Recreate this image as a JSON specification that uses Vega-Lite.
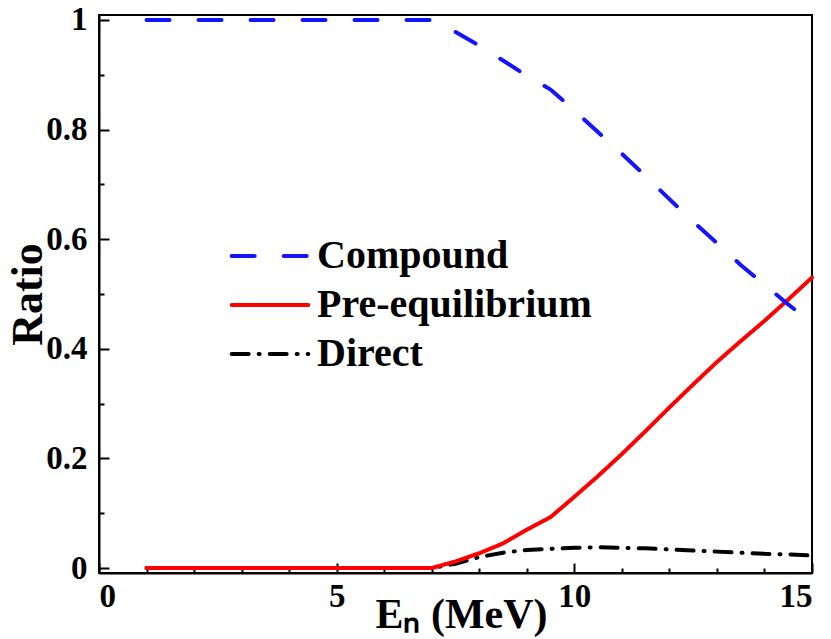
{
  "$schema": "https://vega.github.io/schema/vega-lite/v6.json",
  "width": 713,
  "height": 558,
  "autosize": {"type": "none"},
  "padding": {"left": 99, "top": 15, "right": 19, "bottom": 66},
  "background": "white",
  "config": {
    "view": {"stroke": "black", "strokeWidth": 2},
    "font": "Liberation Serif",
    "axis": {
      "grid": false,
      "domainColor": "black",
      "domainWidth": 2,
      "tickColor": "black",
      "tickWidth": 2,
      "labelFont": "Liberation Serif",
      "labelFontWeight": "bold",
      "labelFontSize": 33,
      "labelColor": "black",
      "labelOverlap": false,
      "titleFont": "Liberation Serif",
      "titleFontWeight": "bold",
      "titleFontSize": 42,
      "titleColor": "black"
    }
  },
  "data": {
    "values": [
      {"E": 1, "series": "Compound", "ratio": 1.0},
      {"E": 2, "series": "Compound", "ratio": 1.0},
      {"E": 3, "series": "Compound", "ratio": 1.0},
      {"E": 4, "series": "Compound", "ratio": 1.0},
      {"E": 5, "series": "Compound", "ratio": 1.0},
      {"E": 6, "series": "Compound", "ratio": 1.0},
      {"E": 7, "series": "Compound", "ratio": 1.0},
      {"E": 7.5, "series": "Compound", "ratio": 0.978},
      {"E": 8, "series": "Compound", "ratio": 0.953},
      {"E": 8.5, "series": "Compound", "ratio": 0.926},
      {"E": 9, "series": "Compound", "ratio": 0.898},
      {"E": 9.5, "series": "Compound", "ratio": 0.873},
      {"E": 10, "series": "Compound", "ratio": 0.835},
      {"E": 10.5, "series": "Compound", "ratio": 0.795},
      {"E": 11, "series": "Compound", "ratio": 0.756},
      {"E": 11.5, "series": "Compound", "ratio": 0.715},
      {"E": 12, "series": "Compound", "ratio": 0.673},
      {"E": 12.5, "series": "Compound", "ratio": 0.632},
      {"E": 13, "series": "Compound", "ratio": 0.593},
      {"E": 13.5, "series": "Compound", "ratio": 0.553},
      {"E": 14, "series": "Compound", "ratio": 0.517},
      {"E": 14.5, "series": "Compound", "ratio": 0.481},
      {"E": 15, "series": "Compound", "ratio": 0.447},
      {"E": 1, "series": "Pre-equilibrium", "ratio": 0.0},
      {"E": 2, "series": "Pre-equilibrium", "ratio": 0.0},
      {"E": 3, "series": "Pre-equilibrium", "ratio": 0.0},
      {"E": 4, "series": "Pre-equilibrium", "ratio": 0.0},
      {"E": 5, "series": "Pre-equilibrium", "ratio": 0.0},
      {"E": 6, "series": "Pre-equilibrium", "ratio": 0.0},
      {"E": 7, "series": "Pre-equilibrium", "ratio": 0.0},
      {"E": 7.5, "series": "Pre-equilibrium", "ratio": 0.012},
      {"E": 8, "series": "Pre-equilibrium", "ratio": 0.027},
      {"E": 8.5, "series": "Pre-equilibrium", "ratio": 0.045},
      {"E": 9, "series": "Pre-equilibrium", "ratio": 0.07},
      {"E": 9.5, "series": "Pre-equilibrium", "ratio": 0.093},
      {"E": 10, "series": "Pre-equilibrium", "ratio": 0.13},
      {"E": 10.5, "series": "Pre-equilibrium", "ratio": 0.168},
      {"E": 11, "series": "Pre-equilibrium", "ratio": 0.208},
      {"E": 11.5, "series": "Pre-equilibrium", "ratio": 0.25},
      {"E": 12, "series": "Pre-equilibrium", "ratio": 0.293},
      {"E": 12.5, "series": "Pre-equilibrium", "ratio": 0.335},
      {"E": 13, "series": "Pre-equilibrium", "ratio": 0.376},
      {"E": 13.5, "series": "Pre-equilibrium", "ratio": 0.414},
      {"E": 14, "series": "Pre-equilibrium", "ratio": 0.451},
      {"E": 14.5, "series": "Pre-equilibrium", "ratio": 0.49},
      {"E": 15, "series": "Pre-equilibrium", "ratio": 0.53},
      {"E": 1, "series": "Direct", "ratio": 0.0},
      {"E": 2, "series": "Direct", "ratio": 0.0},
      {"E": 3, "series": "Direct", "ratio": 0.0},
      {"E": 4, "series": "Direct", "ratio": 0.0},
      {"E": 5, "series": "Direct", "ratio": 0.0},
      {"E": 6, "series": "Direct", "ratio": 0.0},
      {"E": 7, "series": "Direct", "ratio": 0.0},
      {"E": 7.5, "series": "Direct", "ratio": 0.008},
      {"E": 8, "series": "Direct", "ratio": 0.02},
      {"E": 8.5, "series": "Direct", "ratio": 0.028},
      {"E": 9, "series": "Direct", "ratio": 0.033},
      {"E": 9.5, "series": "Direct", "ratio": 0.035},
      {"E": 10, "series": "Direct", "ratio": 0.037},
      {"E": 10.5, "series": "Direct", "ratio": 0.038},
      {"E": 11, "series": "Direct", "ratio": 0.037},
      {"E": 11.5, "series": "Direct", "ratio": 0.036},
      {"E": 12, "series": "Direct", "ratio": 0.034},
      {"E": 12.5, "series": "Direct", "ratio": 0.032},
      {"E": 13, "series": "Direct", "ratio": 0.03},
      {"E": 13.5, "series": "Direct", "ratio": 0.028},
      {"E": 14, "series": "Direct", "ratio": 0.026},
      {"E": 14.5, "series": "Direct", "ratio": 0.025},
      {"E": 15, "series": "Direct", "ratio": 0.023}
    ]
  },
  "encoding": {
    "x": {
      "field": "E",
      "type": "quantitative",
      "scale": {"domain": [0, 15], "nice": false, "zero": false},
      "axis": {
        "values": [0, 1, 2, 3, 4, 5, 6, 7, 8, 9, 10, 11, 12, 13, 14, 15],
        "labelExpr": "datum.value % 5 == 0 ? datum.label : ''",
        "tickSize": {"condition": {"test": "datum.value % 5 == 0", "value": -10}, "value": -5},
        "labelPadding": 17,
        "title": "Eₙ (MeV)",
        "titleX": 362,
        "titleY": 54,
        "titleBaseline": "alphabetic"
      }
    },
    "y": {
      "field": "ratio",
      "type": "quantitative",
      "scale": {"domain": [-0.009, 1.009], "nice": false, "zero": false},
      "axis": {
        "values": [0, 0.1, 0.2, 0.3, 0.4, 0.5, 0.6, 0.7, 0.8, 0.9, 1.0],
        "labelExpr": "round(datum.value * 10) % 2 == 0 ? format(datum.value, '~g') : ''",
        "tickSize": {"condition": {"test": "round(datum.value * 10) % 2 == 0", "value": -10}, "value": -5},
        "labelPadding": 22,
        "labelAlign": "right",
        "title": "Ratio",
        "titleFontSize": 44,
        "titlePadding": -5
      }
    },
    "color": {
      "field": "series",
      "type": "nominal",
      "scale": {"domain": ["Compound", "Pre-equilibrium", "Direct"], "range": ["#1414ff", "#ff0000", "#000000"]},
      "legend": {
        "title": null,
        "orient": "none",
        "legendX": 151,
        "legendY": 221,
        "symbolType": "M-6.3,0H6.3",
        "symbolSize": 148,
        "symbolStrokeWidth": 4,
        "labelFont": "Liberation Serif",
        "labelFontWeight": "bold",
        "labelFontSize": 40,
        "labelColor": "black",
        "labelOffset": 27,
        "labelLimit": 0,
        "rowPadding": 9,
        "padding": 0,
        "encode": {"symbols": {"update": {"strokeCap": {"value": "round"}}}}
      }
    },
    "strokeDash": {
      "field": "series",
      "type": "nominal",
      "scale": {"domain": ["Compound", "Pre-equilibrium", "Direct"], "range": [[23, 29], [1, 0], [17, 10, 1, 10]]},
      "legend": {
        "title": null,
        "orient": "none",
        "legendX": 151,
        "legendY": 221,
        "symbolType": "M-6.3,0H6.3",
        "symbolSize": 148,
        "symbolStrokeWidth": 4,
        "labelFont": "Liberation Serif",
        "labelFontWeight": "bold",
        "labelFontSize": 40,
        "labelColor": "black",
        "labelOffset": 27,
        "labelLimit": 0,
        "rowPadding": 9,
        "padding": 0,
        "encode": {"symbols": {"update": {"strokeCap": {"value": "round"}}}}
      }
    }
  },
  "layer": [
    {
      "transform": [{"filter": "datum.series == 'Direct'"}],
      "mark": {"type": "line", "strokeWidth": 4, "strokeCap": "round"}
    },
    {
      "transform": [{"filter": "datum.series == 'Pre-equilibrium'"}],
      "mark": {"type": "line", "strokeWidth": 4, "strokeCap": "round"}
    },
    {
      "transform": [{"filter": "datum.series == 'Compound'"}],
      "mark": {"type": "line", "strokeWidth": 4, "strokeCap": "round"}
    }
  ]
}
